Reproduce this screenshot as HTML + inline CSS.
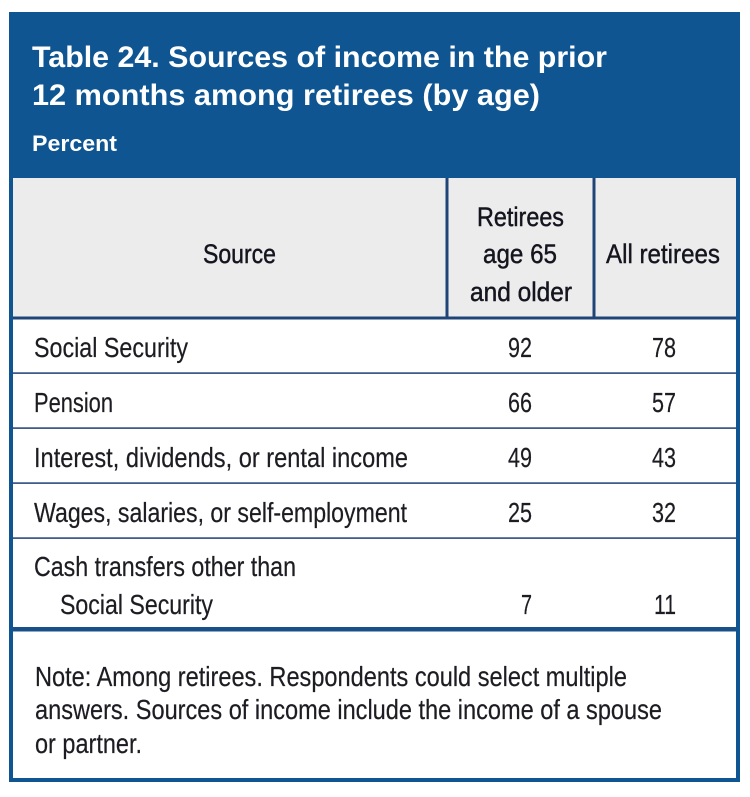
<!DOCTYPE html>
<html>
<head>
<meta charset="utf-8">
<style>
html,body{margin:0;padding:0;background:#fff;}
svg{display:block;}
text{font-family:"Liberation Sans",sans-serif;}
</style>
</head>
<body>
<svg width="750" height="797" viewBox="0 0 750 797" xmlns="http://www.w3.org/2000/svg">
  <rect x="0" y="0" width="750" height="797" fill="#ffffff"/>
  <!-- outer blue box -->
  <rect x="9" y="12" width="731" height="770" fill="#0e5592"/>
  <!-- inner white -->
  <rect x="13" y="178" width="723" height="600" fill="#ffffff"/>
  <!-- header gray -->
  <rect x="13" y="178" width="723" height="140" fill="#ececec"/>
  <!-- header dividers -->
  <rect x="445.5" y="178" width="3" height="140" fill="#1f4478"/>
  <rect x="592.5" y="178" width="3" height="140" fill="#1f4478"/>
  <rect x="13" y="316.5" width="723" height="3" fill="#1f4478"/>
  <!-- row lines -->
  <rect x="13" y="372.3" width="723" height="1.6" fill="#2b4a7e"/>
  <rect x="13" y="427.3" width="723" height="1.6" fill="#2b4a7e"/>
  <rect x="13" y="482.3" width="723" height="1.6" fill="#2b4a7e"/>
  <rect x="13" y="537.3" width="723" height="1.6" fill="#2b4a7e"/>
  <!-- thick divider -->
  <rect x="13" y="627" width="723" height="4.5" fill="#1a5089"/>

  <!-- title -->
  <g fill="#ffffff" font-weight="bold">
    <text x="32" y="67" font-size="30" textLength="575" lengthAdjust="spacingAndGlyphs">Table 24. Sources of income in the prior</text>
    <text x="32" y="105" font-size="30" textLength="508" lengthAdjust="spacingAndGlyphs">12 months among retirees (by age)</text>
    <text x="32" y="151" font-size="22.5" textLength="85" lengthAdjust="spacingAndGlyphs">Percent</text>
  </g>

  <!-- header text -->
  <g fill="#15151f" font-size="27" stroke="#15151f" stroke-width="0.45">
    <text x="203" y="263" textLength="73" lengthAdjust="spacingAndGlyphs">Source</text>
    <text x="477" y="226" textLength="87" lengthAdjust="spacingAndGlyphs">Retirees</text>
    <text x="483" y="263" textLength="74" lengthAdjust="spacingAndGlyphs">age 65</text>
    <text x="470" y="301" textLength="102" lengthAdjust="spacingAndGlyphs">and older</text>
    <text x="606" y="263" textLength="114" lengthAdjust="spacingAndGlyphs">All retirees</text>
  </g>

  <!-- body rows -->
  <g fill="#1c1c22" font-size="27.5" stroke="#1c1c22" stroke-width="0.2">
    <text x="34" y="357" textLength="154" lengthAdjust="spacingAndGlyphs">Social Security</text>
    <text x="34" y="412" textLength="79" lengthAdjust="spacingAndGlyphs">Pension</text>
    <text x="34" y="467" textLength="374" lengthAdjust="spacingAndGlyphs">Interest, dividends, or rental income</text>
    <text x="34" y="522" textLength="373" lengthAdjust="spacingAndGlyphs">Wages, salaries, or self-employment</text>
    <text x="34" y="576" textLength="262" lengthAdjust="spacingAndGlyphs">Cash transfers other than</text>
    <text x="60" y="614" textLength="153" lengthAdjust="spacingAndGlyphs">Social Security</text>

    <g text-anchor="end">
      <text x="532" y="357" textLength="24" lengthAdjust="spacingAndGlyphs">92</text>
      <text x="676" y="357" textLength="24" lengthAdjust="spacingAndGlyphs">78</text>
      <text x="532" y="412" textLength="24" lengthAdjust="spacingAndGlyphs">66</text>
      <text x="676" y="412" textLength="24" lengthAdjust="spacingAndGlyphs">57</text>
      <text x="532" y="467" textLength="24" lengthAdjust="spacingAndGlyphs">49</text>
      <text x="676" y="467" textLength="24" lengthAdjust="spacingAndGlyphs">43</text>
      <text x="532" y="522" textLength="24" lengthAdjust="spacingAndGlyphs">25</text>
      <text x="676" y="522" textLength="24" lengthAdjust="spacingAndGlyphs">32</text>
      <text x="532" y="614" textLength="11" lengthAdjust="spacingAndGlyphs">7</text>
      <text x="676" y="614" textLength="22" lengthAdjust="spacingAndGlyphs">11</text>
    </g>

    <!-- note -->
    <text x="35" y="686" textLength="592" lengthAdjust="spacingAndGlyphs">Note: Among retirees. Respondents could select multiple</text>
    <text x="35" y="719" textLength="627" lengthAdjust="spacingAndGlyphs">answers. Sources of income include the income of a spouse</text>
    <text x="35" y="753" textLength="107" lengthAdjust="spacingAndGlyphs">or partner.</text>
  </g>
</svg>
</body>
</html>
